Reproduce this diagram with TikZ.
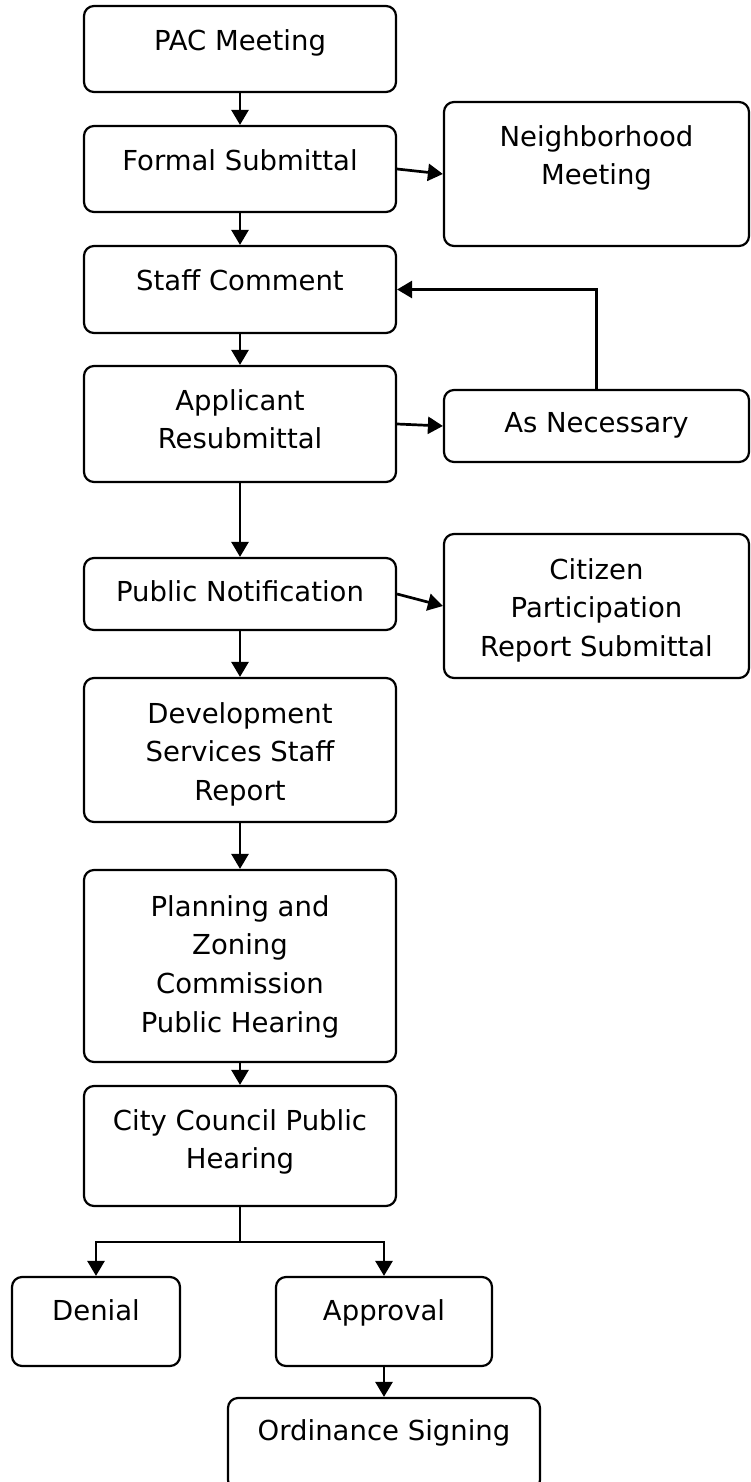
\documentclass[tikz,border=0pt]{standalone}
\usepackage{fontspec}
\setmainfont{DejaVu Sans}
\usetikzlibrary{arrows.meta,positioning}

\begin{document}
\begin{tikzpicture}[x=0.5pt, y=-0.5pt,
		box/.style={draw, line width=1.1pt, rounded corners=5pt, inner sep=0pt},
		lbl/.style={inner sep=0pt, align=center, font=\fontsize{13.75pt}{19.3pt}\selectfont},
		link/.style={line width=1.35pt, -{Triangle[length=7.5pt, width=8.5pt]}}]
			\useasboundingbox (0, 0) rectangle (750, 1482);

			\draw (240, 49) 	node[box, minimum width=156pt, minimum height=43pt] 	(pac) 		{};
			\draw (240, 169) 	node[box, minimum width=156pt, minimum height=43pt] 	(formal) 	{};
			\draw (596.5, 174) 	node[box, minimum width=152.5pt, minimum height=72pt] 	(neigh) 	{};
			\draw (240, 289.5) 	node[box, minimum width=156pt, minimum height=43.5pt] 	(staff) 	{};
			\draw (240, 424) 	node[box, minimum width=156pt, minimum height=58pt] 	(appl) 		{};
			\draw (596.5, 426) 	node[box, minimum width=152.5pt, minimum height=36pt] 	(asnec) 	{};
			\draw (240, 594) 	node[box, minimum width=156pt, minimum height=36pt] 	(pubnot) 	{};
			\draw (596.5, 606) 	node[box, minimum width=152.5pt, minimum height=72pt] 	(citizen) 	{};
			\draw (240, 750) 	node[box, minimum width=156pt, minimum height=72pt] 	(devel) 	{};
			\draw (240, 966) 	node[box, minimum width=156pt, minimum height=96pt] 	(plan) 		{};
			\draw (240, 1146) 	node[box, minimum width=156pt, minimum height=60pt] 	(city) 		{};
			\draw (96, 1321.5) 	node[box, minimum width=84pt, minimum height=44.5pt] 	(denial) 	{};
			\draw (384, 1321.5) node[box, minimum width=108pt, minimum height=44.5pt] 	(approval) 	{};
			\draw (384, 1444) 	node[box, minimum width=156pt, minimum height=46pt] 	(ordin) 	{};

			\node[lbl, below=12pt of pac.north] 		(pac_t) 		{PAC Meeting};
			\node[lbl, below=12pt of formal.north] 		(formal_t) 		{Formal Submittal};
			\node[lbl, below=12pt of neigh.north] 		(neigh_t) 		{Neighborhood\\Meeting};
			\node[lbl, below=12pt of staff.north] 		(staff_t) 		{Staff Comment};
			\node[lbl, below=12pt of appl.north] 		(appl_t) 		{Applicant\\Resubmittal};
			\node[lbl, below=11.5pt of asnec.north] 	(asnec_t) 		{As Necessary};
			\node[lbl, below=11.5pt of pubnot.north] 	(pubnot_t) 		{Public Notification};
			\node[lbl, below=12.5pt of citizen.north] 	(citizen_t) 	{Citizen\\Participation\\Report Submittal};
			\node[lbl, below=12.5pt of devel.north] 	(devel_t) 		{Development\\Services Staff\\Report};
			\node[lbl, below=13pt of plan.north] 		(plan_t) 		{Planning and\\Zoning\\Commission\\Public Hearing};
			\node[lbl, below=12pt of city.north] 		(city_t) 		{City Council Public\\Hearing};
			\node[lbl, below=11.5pt of denial.north] 	(denial_t) 		{Denial};
			\node[lbl, below=11.5pt of approval.north] 	(approval_t) 	{Approval};
			\node[lbl, below=11pt of ordin.north] 		(ordin_t) 		{Ordinance Signing};

			\coordinate (split) at (240, 1242);

			\draw[link] (pac) -- (formal);
			\draw[link] (formal.east) -- (neigh.west);
			\draw[link] (formal) -- (staff);
			\draw[link] (asnec.north) |- (staff.east);
			\draw[link] (staff) -- (appl);
			\draw[link] (appl.east) -- (asnec.west);
			\draw[link] (appl) -- (pubnot);
			\draw[link] (pubnot.east) -- (citizen.west);
			\draw[link] (pubnot) -- (devel);
			\draw[link] (devel) -- (plan);
			\draw[link] (plan) -- (city);
			\draw[line width=1.35pt] (city) -- (split);
			\draw[link] (split) -| (denial.north);
			\draw[link] (split) -| (approval.north);
			\draw[link] (approval) -- (ordin);
		\end{tikzpicture}
\end{document}
